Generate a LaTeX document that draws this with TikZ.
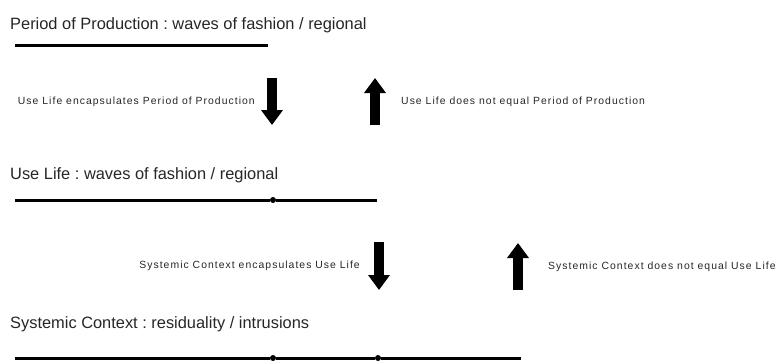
\documentclass[tikz,border=0pt]{standalone}
\usepackage{fontspec}
\setmainfont{Liberation Sans}
\newfontfamily\lblfont[LetterSpace=10]{Liberation Sans}
\usetikzlibrary{calc,arrows.meta,positioning}
\tikzset{
  heading/.style={anchor=base west, inner sep=0pt, text=black!85,
    font=\fontsize{16.4}{20}\selectfont},
  lbl/.style={inner sep=0pt, text=black!85, font=\lblfont\fontsize{10.4}{12}\selectfont},
  rule/.style={draw=black, line width=3pt},
  dot/.style={circle, fill=black, inner sep=0pt, minimum size=6pt},
  blockarr/.style={line width=10pt, -{Triangle[length=15pt,width=21pt]}}
}
\frenchspacing
\begin{document}
\begin{tikzpicture}[x=1pt, y=-1pt]
  \useasboundingbox (0,0) rectangle (780,362);

  % Period of Production
  \node[heading] (pp) at (10,29) {Period of Production : waves of fashion / regional};
  \coordinate (pps) at (15,45);
  \coordinate (ppe) at (268,45);
  \draw[rule] (pps) -- (ppe);

  % arrows between rows 1 and 2
  \coordinate (dn1top) at (272,78);
  \coordinate (dn1tip) at (272,125);
  \coordinate (up1bot) at (375,125);
  \coordinate (up1tip) at (375,78);
  \draw[blockarr] (dn1top) -- (dn1tip);
  \draw[blockarr] (up1bot) -- (up1tip);
  \node[lbl, anchor=east, left=17pt of $(dn1top)!0.5!(dn1tip)$] (enc1)
    {Use Life encapsulates Period of Production};
  \node[lbl, anchor=west, right=26pt of $(up1bot)!0.5!(up1tip)$] (neq1)
    {Use Life does not equal Period of Production};

  % Use Life
  \node[heading] (ul) at (10,179) {Use Life : waves of fashion / regional};
  \coordinate (uls) at (15,200);
  \node[dot] (uld) at (273,200) {};
  \coordinate (ule) at (377,200);
  \draw[rule] (uls) -- (uld) -- (ule);

  % arrows between rows 2 and 3
  \coordinate (dn2top) at (379,242);
  \coordinate (dn2tip) at (379,290);
  \coordinate (up2bot) at (518,290);
  \coordinate (up2tip) at (518,243);
  \draw[blockarr] (dn2top) -- (dn2tip);
  \draw[blockarr] (up2bot) -- (up2tip);
  \node[lbl, anchor=east, left=19pt of $(dn2top)!0.5!(dn2tip)$] (enc2)
    {Systemic Context encapsulates Use Life};
  \node[lbl, anchor=west, right=30pt of $(up2bot)!0.5!(up2tip)$] (neq2)
    {Systemic Context does not equal Use Life};

  % Systemic Context
  \node[heading] (sc) at (10,328) {Systemic Context : residuality / intrusions};
  \coordinate (scs) at (15,358);
  \node[dot] (scd1) at (273,358) {};
  \node[dot] (scd2) at (378,358) {};
  \coordinate (sce) at (521,358);
  \draw[rule] (scs) -- (scd1) -- (scd2) -- (sce);
\end{tikzpicture}
\end{document}
